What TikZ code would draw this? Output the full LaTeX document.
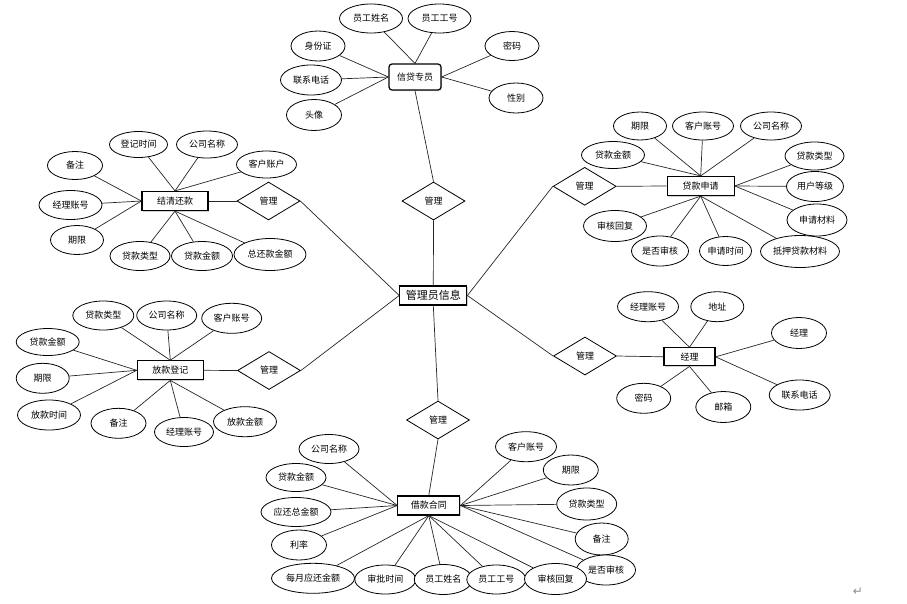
\documentclass[tikz,border=0pt]{standalone}
\usepackage{fontspec}
\newfontfamily\cjk{Noto Sans CJK SC}
\newfontfamily\symfont{DejaVu Sans}
\usetikzlibrary{shapes.geometric,shadows}
\tikzset{
  attr/.style={ellipse, draw=black, fill=white, line width=0.8pt, inner sep=0pt, font=\cjk\fontsize{9}{10}\selectfont},
  ea/.style 2 args={attr, minimum width=#1, minimum height=#2},
  entbox/.style={rectangle, draw=black, fill=white, line width=1.2pt, inner sep=0pt, font=\cjk\fontsize{9}{10}\selectfont, drop shadow={shadow xshift=1pt, shadow yshift=-1pt, fill=black!35}},
  rel/.style={diamond, draw=black, fill=white, line width=0.8pt, inner sep=0pt, minimum width=63pt, minimum height=38pt, font=\cjk\fontsize{9}{10}\selectfont},
  lnk/.style={draw=black!85, line width=0.7pt}
}
\begin{document}
\begin{tikzpicture}[x=1pt,y=-1pt]
\useasboundingbox (0,0) rectangle (907,603);

% ---------- center ----------
\node[entbox, minimum width=67pt, minimum height=19pt, font=\cjk\fontsize{11}{12}\selectfont] (c) at (433.3,295.5) {管理员信息};

% ---------- top: 信贷专员 ----------
\node[entbox, rounded corners=3pt, minimum width=52pt, minimum height=26pt] (xd) at (415,77) {信贷专员};
\node[ea={63}{29}] (xd1) at (371,18.5) {员工姓名};
\node[ea={63}{29}] (xd2) at (439.5,18.5) {员工工号};
\node[ea={54}{30}] (xd3) at (318,46) {身份证};
\node[ea={61}{30}] (xd4) at (311,80) {联系电话};
\node[ea={55}{31}] (xd5) at (314,115) {头像};
\node[ea={54}{29}] (xd6) at (512,46) {密码};
\node[ea={54}{30}] (xd7) at (516,98) {性别};
\node[rel] (r1) at (433.5,201) {管理};
\draw[lnk] (xd1) -- (xd.north);
\draw[lnk] (xd2) -- (xd.north);
\draw[lnk] (xd3) -- (xd.west);
\draw[lnk] (xd4) -- (xd.west);
\draw[lnk] (xd5) -- (xd.west);
\draw[lnk] (xd6) -- (xd.east);
\draw[lnk] (xd7) -- (xd.east);
\draw[lnk] (xd.south) -- (r1.north);
\draw[lnk] (r1.south) -- (c.north);

% ---------- left top: 结清还款 ----------
\node[entbox, minimum width=66pt, minimum height=19pt] (jq) at (175,201) {结清还款};
\node[ea={58}{26}] (jq1) at (138.5,144.5) {登记时间};
\node[ea={61}{27}] (jq2) at (207,144.5) {公司名称};
\node[ea={60}{27}] (jq3) at (266.5,164.5) {客户账户};
\node[ea={55}{28}] (jq4) at (75,165.5) {备注};
\node[ea={63}{29}] (jq5) at (70.5,205) {经理账号};
\node[ea={53}{29}] (jq6) at (77,240) {期限};
\node[ea={60}{29}] (jq7) at (140,256) {贷款类型};
\node[ea={61}{29}] (jq8) at (202,256) {贷款金额};
\node[ea={72}{32}] (jq9) at (270,254.5) {总还款金额};
\node[rel] (r2) at (268.5,201) {管理};
\draw[lnk] (jq1) -- (jq.north);
\draw[lnk] (jq2) -- (jq.north);
\draw[lnk] (jq3) -- (jq.north);
\draw[lnk] (jq4) -- (jq.west);
\draw[lnk] (jq5) -- (jq.west);
\draw[lnk] (jq6) -- (jq.west);
\draw[lnk] (jq7) -- (jq.south);
\draw[lnk] (jq8) -- (jq.south);
\draw[lnk] (jq9) -- (jq.south);
\draw[lnk] (jq.east) -- (r2.west);
\draw[lnk] (r2.east) -- (c.west);

% ---------- right top: 贷款申请 ----------
\node[entbox, minimum width=67pt, minimum height=19pt] (sq) at (700.7,186) {贷款申请};
\node[ea={53}{28}] (sq1) at (640,126) {期限};
\node[ea={61}{28}] (sq2) at (703,126) {客户账号};
\node[ea={61}{28}] (sq3) at (771,126) {公司名称};
\node[ea={63}{27}] (sq4) at (613,155) {贷款金额};
\node[ea={59}{28}] (sq5) at (814.5,156) {贷款类型};
\node[ea={57}{30}] (sq6) at (815,186.5) {用户等级};
\node[ea={60}{32}] (sq7) at (817,220) {申请材料};
\node[ea={79}{32}] (sq8) at (800,251.5) {抵押贷款材料};
\node[ea={52}{29}] (sq9) at (725.5,251) {申请时间};
\node[ea={57}{30}] (sq10) at (660,251) {是否审核};
\node[ea={63}{31}] (sq11) at (615,226) {审核回复};
\node[rel] (r3) at (584.7,186.3) {管理};
\draw[lnk] (sq1) -- (sq.north);
\draw[lnk] (sq2) -- (sq.north);
\draw[lnk] (sq3) -- (sq.north);
\draw[lnk] (sq4) -- (sq.north);
\draw[lnk] (sq5) -- (sq.east);
\draw[lnk] (sq6) -- (sq.east);
\draw[lnk] (sq7) -- (sq.east);
\draw[lnk] (sq8) -- (sq.south);
\draw[lnk] (sq9) -- (sq.south);
\draw[lnk] (sq10) -- (sq.south);
\draw[lnk] (sq11) -- (sq.south);
\draw[lnk] (r3.east) -- (sq.west);
\draw[lnk] (r3.west) -- (c.east);

% ---------- left bottom: 放款登记 ----------
\node[entbox, minimum width=66pt, minimum height=19pt] (fk) at (170.3,370.3) {放款登记};
\node[ea={61}{29}] (fk1) at (103.3,315.5) {贷款类型};
\node[ea={60}{29}] (fk2) at (166.7,315.5) {公司名称};
\node[ea={60}{30}] (fk3) at (231.7,318.3) {客户账号};
\node[ea={63}{27}] (fk4) at (47.7,342) {贷款金额};
\node[ea={53}{30}] (fk5) at (42.7,378.3) {期限};
\node[ea={63}{30}] (fk6) at (49,415) {放款时间};
\node[ea={55}{30}] (fk7) at (118.5,423.3) {备注};
\node[ea={59}{29}] (fk8) at (184,432) {经理账号};
\node[ea={63}{30}] (fk9) at (245,421.7) {放款金额};
\node[rel] (r4) at (269,370.5) {管理};
\draw[lnk] (fk1) -- (fk.north);
\draw[lnk] (fk2) -- (fk.north);
\draw[lnk] (fk3) -- (fk.north);
\draw[lnk] (fk4) -- (fk.west);
\draw[lnk] (fk5) -- (fk.west);
\draw[lnk] (fk6) -- (fk.west);
\draw[lnk] (fk7) -- (fk.south);
\draw[lnk] (fk8) -- (fk.south);
\draw[lnk] (fk9) -- (fk.south);
\draw[lnk] (fk.east) -- (r4.west);
\draw[lnk] (r4.east) -- (c.west);

% ---------- right bottom: 经理 ----------
\node[entbox, minimum width=51pt, minimum height=18pt] (jl) at (689.5,356.8) {经理};
\node[ea={61}{30}] (jl1) at (648,306.7) {经理账号};
\node[ea={53}{30}] (jl2) at (717.3,306.7) {地址};
\node[ea={55}{31}] (jl3) at (799,333) {经理};
\node[ea={61}{30}] (jl4) at (799.7,395) {联系电话};
\node[ea={54}{30}] (jl5) at (643.7,398.3) {密码};
\node[ea={55}{31}] (jl6) at (723.3,407) {邮箱};
\node[rel] (r5) at (585,356) {管理};
\draw[lnk] (jl1) -- (jl.north);
\draw[lnk] (jl2) -- (jl.north);
\draw[lnk] (jl3) -- (jl.east);
\draw[lnk] (jl4) -- (jl.east);
\draw[lnk] (jl5) -- (jl.south);
\draw[lnk] (jl6) -- (jl.south);
\draw[lnk] (r5.east) -- (jl.west);
\draw[lnk] (r5.west) -- (c.east);

% ---------- bottom: 借款合同 ----------
\node[entbox, minimum width=62pt, minimum height=19pt] (ht) at (428.8,505.5) {借款合同};
\node[rel] (r6) at (438,420) {管理};
\draw[lnk] (r6.north) -- (c.south);
\draw[lnk] (r6.south) -- (ht.north);
\node[ea={60}{29}] (ht1) at (329,449) {公司名称};
\node[ea={60}{28}] (ht2) at (296,477.5) {贷款金额};
\node[ea={70}{29}] (ht3) at (296,512) {应还总金额};
\node[ea={55}{30}] (ht4) at (299,545) {利率};
\node[ea={61}{30}] (ht15) at (526,446.7) {客户账号};
\node[ea={55}{30}] (ht14) at (570.8,470) {期限};
\node[ea={60}{32}] (ht13) at (586.7,504) {贷款类型};
\node[ea={53}{32}] (ht12) at (601.7,539) {备注};
\node[ea={59}{30}] (ht11) at (606,570) {是否审核};
\node[ea={83}{30}] (ht5) at (313,578.3) {每月应还金额};
\node[ea={61}{29}] (ht6) at (385.3,579.5) {审批时间};
\node[ea={58}{30}] (ht7) at (443.3,579.5) {员工姓名};
\node[ea={59}{29}] (ht8) at (496.3,579.5) {员工工号};
\node[ea={62}{31}] (ht9) at (555.5,579) {审核回复};
\draw[lnk] (ht1) -- (ht.west);
\draw[lnk] (ht2) -- (ht.west);
\draw[lnk] (ht3) -- (ht.west);
\draw[lnk] (ht4) -- (ht.west);
\draw[lnk] (ht5) -- (ht.south);
\draw[lnk] (ht6) -- (ht.south);
\draw[lnk] (ht7) -- (ht.south);
\draw[lnk] (ht8) -- (ht.south);
\draw[lnk] (ht9) -- (ht.south);
\draw[lnk] (ht11) -- (ht.east);
\draw[lnk] (ht12) -- (ht.east);
\draw[lnk] (ht13) -- (ht.east);
\draw[lnk] (ht14) -- (ht.east);
\draw[lnk] (ht15) -- (ht.east);

% paragraph mark
\node[text=black!45, font=\symfont\fontsize{12}{12}\selectfont, inner sep=0pt] (pm) at (858,592) {↵};
\end{tikzpicture}
\end{document}
